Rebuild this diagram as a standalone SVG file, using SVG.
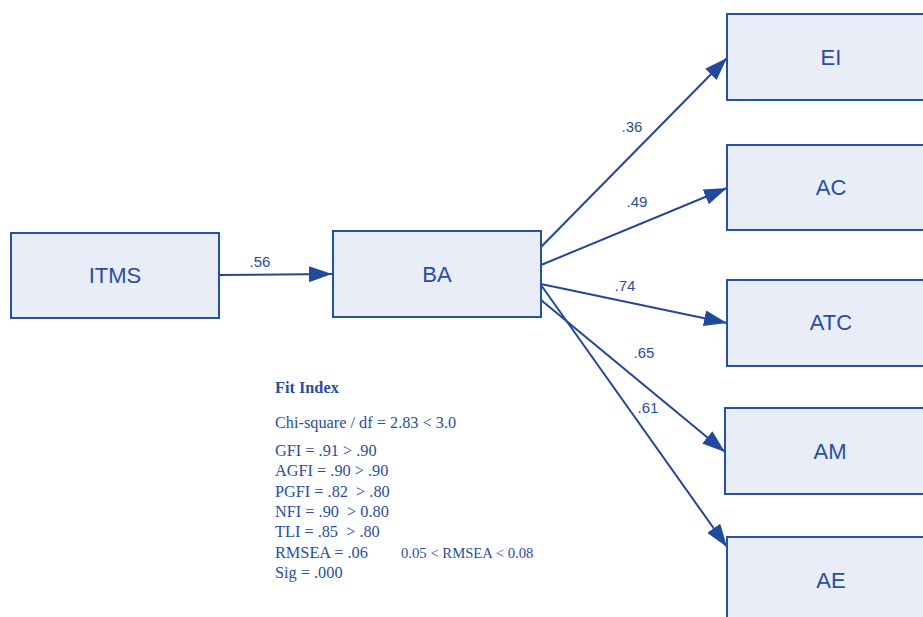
<svg xmlns="http://www.w3.org/2000/svg" width="923" height="617" viewBox="0 0 923 617">
<style>
.box{fill:#e8edf7;stroke:#2451a6;stroke-width:2}
.lbl{font-family:"Liberation Sans",Arial,sans-serif;font-size:22px;fill:#2a4d9e;text-anchor:middle;dominant-baseline:central}
.edge{stroke:#24469a;stroke-width:2;fill:none;marker-end:url(#ah)}
.w{font-family:"Liberation Sans",Arial,sans-serif;font-size:15px;fill:#2a4d9e}
.fit{font-family:"Liberation Serif","Times New Roman",serif;font-size:16.3px;fill:#2a4d9e;white-space:pre}
.sm{font-size:14.7px}
</style>
<defs>
<marker id="ah" markerUnits="userSpaceOnUse" markerWidth="24" markerHeight="16" refX="23" refY="8" orient="auto">
<path d="M0,0 L23,8 L0,16 Z" fill="#1f4a9e"/>
</marker>
</defs>
<rect width="923" height="617" fill="#fff"/>
<g id="connectors">
<line class="edge" x1="219" y1="275" x2="332" y2="274"/>
<line class="edge" x1="541" y1="247" x2="727" y2="58"/>
<line class="edge" x1="541" y1="265" x2="727" y2="188"/>
<line class="edge" x1="541" y1="284" x2="727" y2="323"/>
<line class="edge" x1="541" y1="300" x2="725" y2="452"/>
<line class="edge" x1="541" y1="285" x2="727" y2="547"/>
<text class="w" x="260" y="267" text-anchor="middle">.56</text>
<text class="w" x="632" y="132" text-anchor="middle">.36</text>
<text class="w" x="637" y="207" text-anchor="middle">.49</text>
<text class="w" x="625" y="291" text-anchor="middle">.74</text>
<text class="w" x="644" y="358" text-anchor="middle">.65</text>
<text class="w" x="648" y="413" text-anchor="middle">.61</text>
</g>
<g id="ITMS"><rect class="box" x="11" y="233" width="208" height="85"/><text class="lbl" x="115" y="275">ITMS</text></g>
<g id="BA"><rect class="box" x="333" y="231" width="208" height="86"/><text class="lbl" x="437" y="274">BA</text></g>
<g id="EI"><rect class="box" x="727" y="14" width="208" height="86"/><text class="lbl" x="831" y="57">EI</text></g>
<g id="AC"><rect class="box" x="727" y="145" width="208" height="85"/><text class="lbl" x="831" y="187">AC</text></g>
<g id="ATC"><rect class="box" x="727" y="280" width="208" height="86"/><text class="lbl" x="831" y="322">ATC</text></g>
<g id="AM"><rect class="box" x="725" y="408" width="208" height="86"/><text class="lbl" x="830" y="451">AM</text></g>
<g id="AE"><rect class="box" x="727" y="537" width="208" height="86"/><text class="lbl" x="831" y="580">AE</text></g>
<g id="fit-index">
<text class="fit" x="275" y="393" font-weight="bold">Fit Index</text>
<text class="fit" x="275" y="428">Chi-square / df = 2.83 &lt; 3.0</text>
<text class="fit" x="275" y="456">GFI = .91 &gt; .90</text>
<text class="fit" x="275" y="476">AGFI = .90 &gt; .90</text>
<text class="fit" x="275" y="497">PGFI = .82  &gt; .80</text>
<text class="fit" x="275" y="517">NFI = .90  &gt; 0.80</text>
<text class="fit" x="275" y="537">TLI = .85  &gt; .80</text>
<text class="fit" x="275" y="558">RMSEA = .06<tspan class="sm" x="401">0.05 &lt; RMSEA &lt; 0.08</tspan></text>
<text class="fit" x="275" y="578">Sig = .000</text>
</g>
</svg>
